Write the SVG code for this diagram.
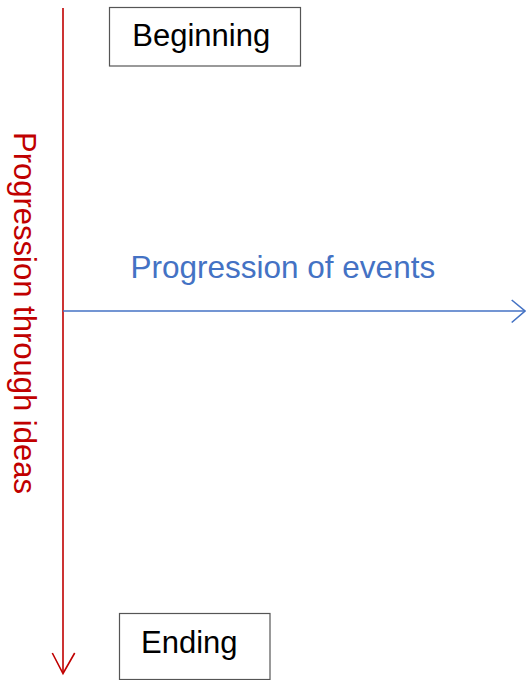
<svg xmlns="http://www.w3.org/2000/svg" width="526" height="680" viewBox="0 0 526 680">
  <style>
    .box { fill: #ffffff; stroke: #555555; stroke-width: 1.2; }
    .lbl { font-family: "Liberation Sans", Arial, sans-serif; font-size: 31px; fill: #000000; }
    .ideas { stroke: #C00000; stroke-width: 1.6; fill: none; }
    .events { stroke: #4472C4; stroke-width: 1.6; fill: none; }
    .ideas-text { font-family: "Liberation Sans", Arial, sans-serif; font-size: 31px; fill: #C00000; }
    .events-text { font-family: "Liberation Sans", Arial, sans-serif; font-size: 31.5px; fill: #4472C4; }
  </style>
  <rect width="526" height="680" fill="#ffffff"/>

  <g id="connectors">
    <!-- vertical axis: progression through ideas -->
    <g id="ideas-axis">
      <line class="ideas" x1="63" y1="8" x2="63" y2="673"/>
      <polyline class="ideas" points="52.3,653 63,673.5 74.7,653"/>
    </g>
    <!-- horizontal axis: progression of events -->
    <g id="events-axis">
      <line class="events" x1="63" y1="311" x2="525" y2="311"/>
      <polyline class="events" points="511.7,300 525,311 511.7,322.5"/>
    </g>
  </g>

  <g id="label-ideas">
    <text class="ideas-text" transform="translate(14,132) rotate(90)">Progression through ideas</text>
  </g>

  <g id="label-events">
    <text class="events-text" x="130.5" y="278">Progression of events</text>
  </g>

  <g id="node-beginning">
    <rect class="box" x="109.5" y="7.5" width="191" height="58.5"/>
    <text class="lbl" x="132.3" y="46">Beginning</text>
  </g>

  <g id="node-ending">
    <rect class="box" x="119.5" y="613.5" width="150.5" height="66"/>
    <text class="lbl" x="141" y="653">Ending</text>
  </g>
</svg>
